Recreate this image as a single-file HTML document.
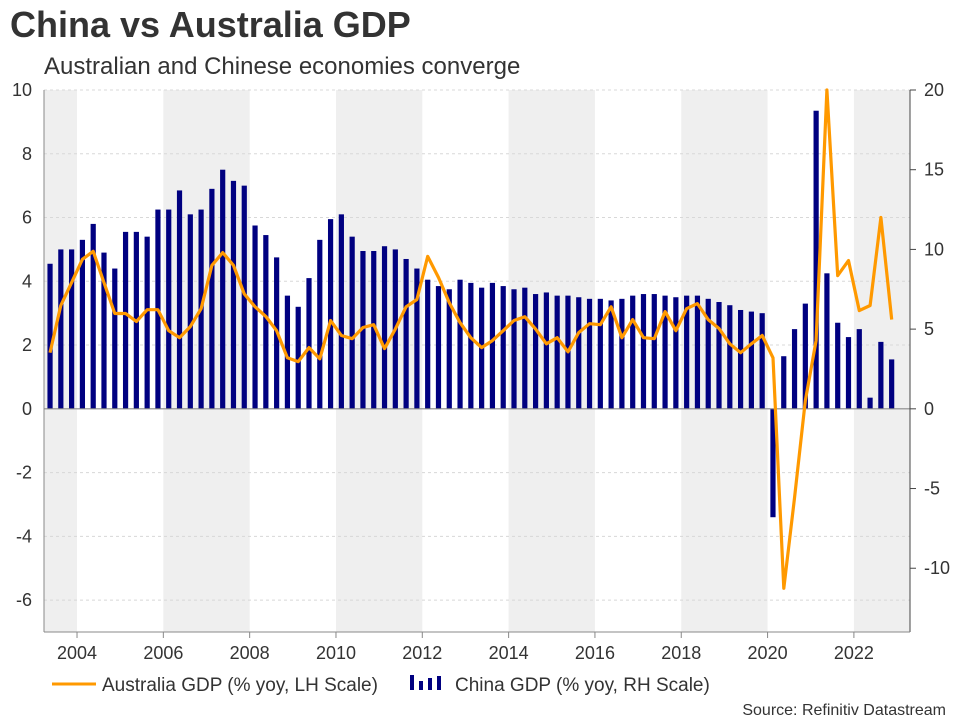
<!DOCTYPE html>
<html><head><meta charset="utf-8"><style>
body{margin:0;background:#fff;font-family:"Liberation Sans",sans-serif;}
</style></head><body>
<svg id="chart" width="960" height="720" xmlns="http://www.w3.org/2000/svg" font-family="Liberation Sans, sans-serif">
<text x="10" y="37" font-size="36" font-weight="bold" fill="#333">China vs Australia GDP</text>
<text x="44" y="74" font-size="24" fill="#333">Australian and Chinese economies converge</text>
<g id="plot"></g>
<g>
<line x1="52" y1="684" x2="96" y2="684" stroke="#FF9900" stroke-width="3"/>
<text x="102" y="691" font-size="19" fill="#333">Australia GDP (% yoy, LH Scale)</text>
<rect x="410" y="675" width="4" height="15" fill="#000080"/><rect x="419" y="681" width="4" height="9" fill="#000080"/><rect x="428" y="678" width="4" height="12" fill="#000080"/><rect x="437" y="676" width="4" height="14" fill="#000080"/>
<text x="455" y="691" font-size="19" fill="#333">China GDP (% yoy, RH Scale)</text>
</g>
<text x="946" y="715" font-size="16" fill="#333" text-anchor="end">Source: Refinitiv Datastream</text>
</svg>
<script>
const startYear = 2003.375;
const china = [9.1,10.0,10.0,
10.6,11.6,9.8,8.8, 11.1,11.1,10.8,12.5, 12.5,13.7,12.2,12.5, 13.8,15.0,14.3,14.0,
11.5,10.9,9.5,7.1, 6.4,8.2,10.6,11.9, 12.2,10.8,9.9,9.9, 10.2,10.0,9.4,8.8,
8.1,7.7,7.5,8.1, 7.9,7.6,7.9,7.7, 7.5,7.6,7.2,7.3, 7.1,7.1,7.0,6.9,
6.9,6.8,6.9,7.1, 7.2,7.2,7.1,7.0, 7.1,7.1,6.9,6.7, 6.5,6.2,6.1,6.0,
-6.8,3.3,5.0,6.6, 18.7,8.5,5.4,4.5, 5.0,0.7,4.2,3.1];
const australia = [1.76,3.24,3.96,4.69,4.94,3.96,2.99,2.99,2.74,3.11,3.11,2.45,2.23,2.58,3.14,4.5,4.9,4.5,3.6,3.2,2.9,2.45,1.6,1.48,1.92,1.57,2.77,2.3,
2.2,2.55,2.64,1.89,2.5,3.2,3.43,4.78,4.12,3.33,2.7,2.23,1.92,2.14,2.45,2.77,2.89,2.5,2.04,2.23,1.79,2.39,2.67,2.64,3.2,2.23,
2.8,2.23,2.2,3.05,2.45,3.14,3.3,2.8,2.52,2.04,1.76,2.04,2.3,1.6,-5.63,-2.8,0.25,2.14,10.0,4.18,4.65,3.08,3.24,6.0,2.8];
const leftTicks = [10,8,6,4,2,0,-2,-4,-6];
const rightTicks = [20,15,10,5,0,-5,-10];
const yearTicks = [2004,2006,2008,2010,2012,2014,2016,2018,2020,2022];
const shadeBands = [[2003.23,2004],[2006,2008],[2010,2012],[2014,2016],[2018,2020],[2022,2023.3]];

const X0=44,X1=910,Y0=90,Y1=632;
const xMin=2003.235,xMax=2023.3;
const x=v=>X0+(v-xMin)/(xMax-xMin)*(X1-X0);
const yL=v=>Y0+(10-v)/17*(Y1-Y0);
const yR=v=>Y0+(20-v)/34*(Y1-Y0);
const NS="http://www.w3.org/2000/svg";
const g=document.getElementById('plot');
function mk(t,a){const e=document.createElementNS(NS,t);for(const k in a)e.setAttribute(k,a[k]);g.appendChild(e);return e;}

shadeBands.forEach(b=>{const e=mk('rect',{x:x(b[0]),y:Y0,width:x(b[1])-x(b[0]),height:Y1-Y0,fill:'#efefef'});

});
leftTicks.forEach(t=>{
 if(t!==0){const l=mk('line',{x1:X0,x2:X1,y1:yL(t),y2:yL(t),stroke:'#d8d8d8','stroke-dasharray':'3,3'});
 
 }
 const tx=mk('text',{x:X0-12,y:yL(t)+6,'font-size':18,fill:'#333','text-anchor':'end'});tx.textContent=t;
 
 
});
china.forEach((v,i)=>{const xc=x(startYear+i*0.25);const y0=yR(0),y1=yR(v);
 const r=mk('rect',{x:xc-2.6,y:Math.min(y0,y1),width:5.2,height:Math.abs(y1-y0),fill:'#000080'});
 
 });
const z=mk('line',{x1:X0,x2:X1,y1:yL(0),y2:yL(0),stroke:'#888','stroke-width':1.2});


const pts=australia.map((v,i)=>x(startYear+i*0.25).toFixed(1)+','+yL(v).toFixed(1)).join(' ');
const pl=mk('polyline',{points:pts,fill:'none',stroke:'#FF9900','stroke-width':3.2,'stroke-linejoin':'round'});


const la=mk('line',{x1:X0,x2:X0,y1:Y0,y2:Y1,stroke:'#888'});


const ra=mk('line',{x1:X1,x2:X1,y1:Y0,y2:Y1,stroke:'#444'});


const ba=mk('line',{x1:X0,x2:X1,y1:Y1,y2:Y1,stroke:'#888'});


rightTicks.forEach(t=>{mk('line',{x1:X1,x2:X1+6,y1:yR(t),y2:yR(t),stroke:'#444'});
 const tx=mk('text',{x:X1+14,y:yR(t)+6,'font-size':18,fill:'#333'});tx.textContent=t;
 
 });
yearTicks.forEach(t=>{mk('line',{x1:x(t),x2:x(t),y1:Y1,y2:Y1+6,stroke:'#888'});
 const tx=mk('text',{x:x(t),y:Y1+27,'font-size':18,fill:'#333','text-anchor':'middle'});tx.textContent=t;
 
 });
</script>
</body></html>
